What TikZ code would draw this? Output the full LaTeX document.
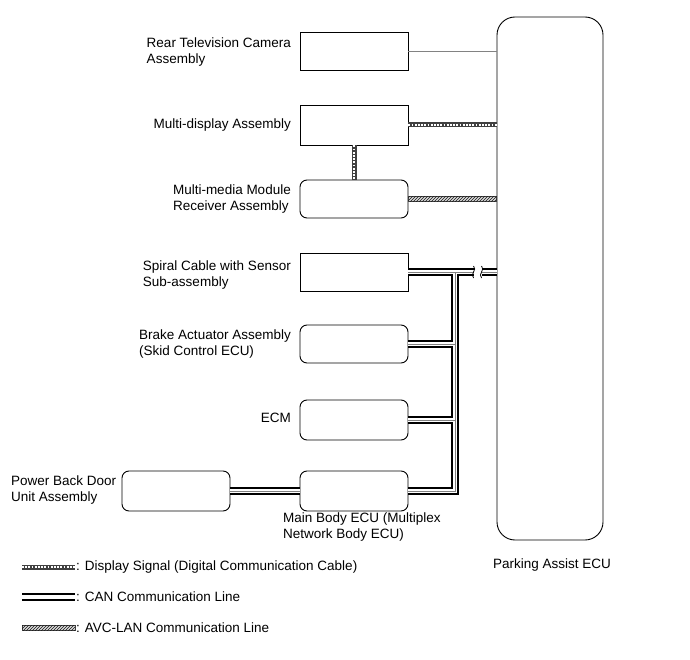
\documentclass[tikz,border=0pt]{standalone}
\usepackage{fontspec}
\setmainfont{Liberation Sans}
\usetikzlibrary{positioning,calc,patterns}
\definecolor{paGray}{RGB}{130,130,130}

\newcommand{\canroute}{(sp.east) -- (sp.east -| pa.west)
  (bus) |- (mb.east)
  (ba.east) -- (ba.east -| bus)
  (ecm.east) -- (ecm.east -| bus)
  (pbd.east) -- (mb.west)}

\tikzset{
  box/.style={draw, line width=0.9pt, minimum width=108, minimum height=38, inner sep=0},
  rbox/.style={box, rounded corners=7pt},
  lbl/.style={font=\fontsize{13.5}{15.5}\selectfont, align=left, inner sep=1pt},
  canouter/.style={draw=black, line width=8pt},
  caninner/.style={draw=white, line width=4pt},
  cancore/.style={draw=black!50, line width=0.9pt},
  dispsig/.style={draw=black!75, line width=5pt,
    postaction={draw=white, line width=2.6pt, dash pattern=on 1.8pt off 1.4pt}},
  avclan/.style={draw=black!75, line width=0.6pt, fill=black!15, postaction={pattern=north east lines, pattern color=black!90}},
  plain/.style={draw=paGray, line width=0.9pt},
}

\begin{document}
\begin{tikzpicture}[x=1pt, y=-1pt]
  \useasboundingbox (0,0) rectangle (690,660);

  % Parking assist ECU
  \node[box, rounded corners=18pt, minimum width=106, minimum height=523] (pa) at (550,278.5) {};
  \node[lbl] (palbl) at (552,565) {Parking Assist ECU};

  % Units
  \node[box] (cam) at (354,51) {};
  \node[lbl, anchor=east] (camlbl) at (292,52) {Rear Television Camera\\Assembly};
  \node[box, minimum height=40] (md) at (354,125) {};
  \node[lbl, anchor=east] (mdlbl) at (292,125) {Multi-display Assembly};
  \node[rbox] (mm) at (354,199) {};
  \node[lbl, anchor=east] (mmlbl) at (292,199) {Multi-media Module\\Receiver Assembly};
  \node[box] (sp) at (354,272) {};
  \node[lbl, anchor=east] (splbl) at (292,275) {Spiral Cable with Sensor\\Sub-assembly};
  \node[rbox] (ba) at (354,344) {};
  \node[lbl, anchor=east] (balbl) at (292,344) {Brake Actuator Assembly\\(Skid Control ECU)};
  \node[rbox, minimum height=40] (ecm) at (354,420) {};
  \node[lbl, anchor=east] (ecmlbl) at (292,418) {ECM};
  \node[rbox, minimum height=40] (mb) at (354,491) {};
  \node[lbl, anchor=north west] (mblbl) at (282,512) {Main Body ECU (Multiplex\\Network Body ECU)};
  \node[rbox, minimum height=40] (pbd) at (176,491) {};
  \node[lbl, anchor=west] (pbdlbl) at (10,490) {Power Back Door\\Unit Assembly};

  % Signal lines
  \draw[plain] (cam.east) -- (cam.east -| pa.west);
  \draw[dispsig] (md.east) -- (md.east -| pa.west);
  \draw[dispsig] (md.south) -- (mm.north);
  \draw[avclan] ($(mm.east)+(0,-2.5)$) rectangle ($(mm.east -| pa.west)+(0,2.5)$);

  % CAN bus
  \coordinate (bus) at ($(sp.east)+(47,0)$);
  \foreach \lay in {canouter,caninner,cancore}
    \draw[\lay] \canroute;

  % break mark
  \coordinate (brk) at ($(sp.east -| pa.west)+(-19,0)$);
  \fill[white] ($(brk)+(-4,-5)$) rectangle ($(brk)+(4,5)$);
  \draw[line width=0.8pt] ($(brk)+(-4,-6)$) .. controls ($(brk)+(0,-2)$) and ($(brk)+(-8,2)$) .. ($(brk)+(-4,6)$);
  \draw[line width=0.8pt] ($(brk)+(4,-6)$) .. controls ($(brk)+(8,-2)$) and ($(brk)+(0,2)$) .. ($(brk)+(4,6)$);

  % Legend
  \node[lbl, anchor=west] (lgdisp) at (75,567) {: Display Signal (Digital Communication Cable)};
  \coordinate (lgdisp0) at (22,567);
  \draw[dispsig] (lgdisp0) -- (lgdisp.west);
  \node[lbl, anchor=west] (lgcan) at (75,597) {: CAN Communication Line};
  \coordinate (lgcan0) at (22,597);
  \foreach \lay in {canouter,caninner}
    \draw[\lay] (lgcan0) -- (lgcan.west);
  \node[lbl, anchor=west] (lgavc) at (75,628) {: AVC-LAN Communication Line};
  \coordinate (lgavc0) at (22,628);
  \draw[avclan] ($(lgavc0)+(0,-2.5)$) rectangle ($(lgavc.west)+(0,2.5)$);
\end{tikzpicture}
\end{document}
